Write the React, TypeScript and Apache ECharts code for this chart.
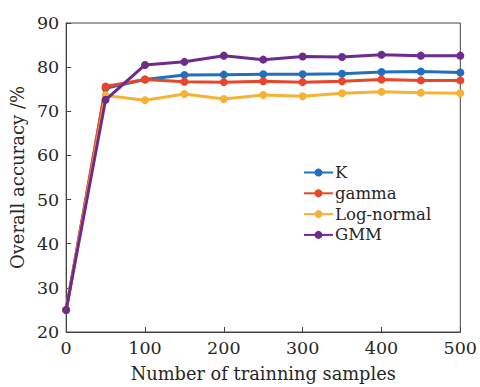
import React, { useEffect, useRef } from "react";
import * as echarts from "echarts";

const xValues = [0, 50, 100, 150, 200, 250, 300, 350, 400, 450, 500];
const kValues = [25, 75.2, 77.2, 78.2, 78.3, 78.4, 78.4, 78.5, 78.9, 79.0, 78.8];
const gammaValues = [25, 75.6, 77.2, 76.7, 76.6, 76.8, 76.6, 76.8, 77.2, 77.0, 77.0];
const logNormalValues = [25, 73.6, 72.5, 73.9, 72.8, 73.7, 73.4, 74.1, 74.4, 74.2, 74.1];
const gmmValues = [25, 72.6, 80.5, 81.2, 82.6, 81.7, 82.4, 82.3, 82.8, 82.6, 82.6];
const seriesNames = ["K", "gamma", "Log-normal", "GMM"];
const seriesColors = ["#2270bd", "#e8452a", "#f5b335", "#6e2b8e"];

const FONT = "DejaVu Serif";
const TEXT = "#262626";

export default function App() {
  const ref = useRef<HTMLDivElement>(null);
  useEffect(() => {
    if (!ref.current) return;
    const chart = echarts.init(ref.current, undefined, { renderer: "svg" });
    const all = [kValues, gammaValues, logNormalValues, gmmValues];
    chart.setOption({
      animation: false,
      backgroundColor: "#ffffff",
      grid: {
        left: 65,
        right: 18,
        top: 23,
        bottom: 51,
        show: true,
        borderColor: "#444",
        borderWidth: 1,
      },
      legend: {
        orient: "vertical",
        left: 298,
        top: 159,
        itemWidth: 29,
        itemHeight: 10,
        itemGap: 3.8,
        textStyle: { fontFamily: FONT, fontSize: 16.5, color: TEXT, padding: [0, 0, 0, -3], lineHeight: 17 },
        data: seriesNames,
      },
      xAxis: {
        type: "value",
        min: 0,
        max: 500,
        interval: 100,
        name: "Number of trainning samples",
        nameLocation: "middle",
        nameGap: 32,
        nameTextStyle: { fontFamily: FONT, fontSize: 17.8, color: TEXT },
        axisLine: { show: true, lineStyle: { color: "#444", width: 1 } },
        axisTick: { show: true, inside: true, length: 5, lineStyle: { color: "#444" } },
        axisLabel: { fontFamily: FONT, fontSize: 17.5, color: TEXT, margin: 7 },
        splitLine: { show: false },
      },
      yAxis: {
        type: "value",
        min: 20,
        max: 90,
        interval: 10,
        name: "Overall accuracy /%",
        nameLocation: "middle",
        nameGap: 40,
        nameTextStyle: { fontFamily: FONT, fontSize: 18, color: TEXT },
        axisLine: { show: true, lineStyle: { color: "#444", width: 1 } },
        axisTick: { show: true, inside: true, length: 5, lineStyle: { color: "#444" } },
        axisLabel: { fontFamily: FONT, fontSize: 17.5, color: TEXT, margin: 7 },
        splitLine: { show: false },
      },
      series: seriesNames.map((name, i) => ({
        name,
        type: "line",
        data: xValues.map((x, j) => [x, all[i][j]]),
        symbol: "circle",
        symbolSize: 8,
        lineStyle: { width: 3, color: seriesColors[i] },
        itemStyle: { color: seriesColors[i] },
        z: 2 + i,
      })),
    });
    return () => chart.dispose();
  }, []);
  return <div ref={ref} style={{ width: 480, height: 387, position: "absolute", left: 0, top: 0 }} />;
}
